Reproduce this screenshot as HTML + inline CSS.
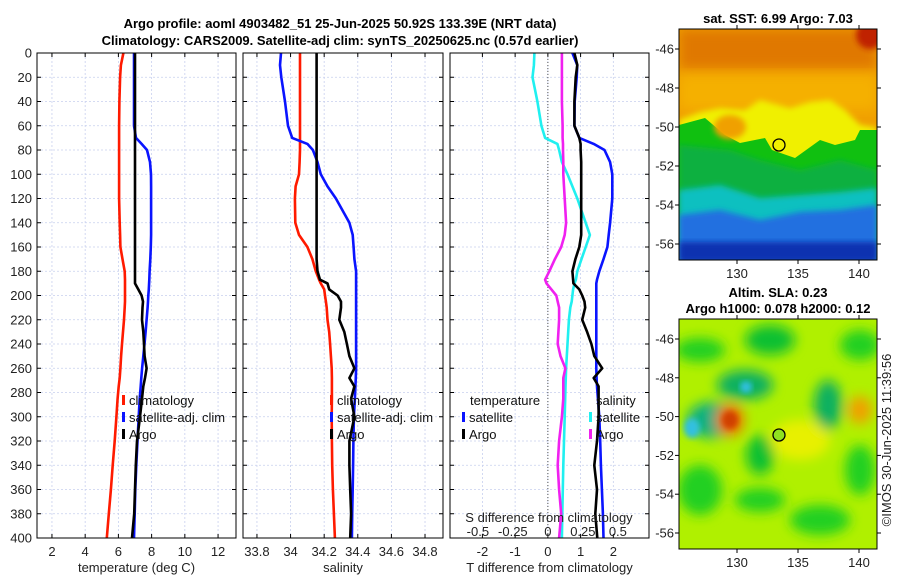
<!DOCTYPE html>
<html><head><meta charset="utf-8"><style>
body{margin:0;background:#fff;}
svg{display:block;font-family:"Liberation Sans","DejaVu Sans",sans-serif;}
</style></head><body>
<svg id="c" width="900" height="580" viewBox="0 0 900 580" xmlns="http://www.w3.org/2000/svg">
<defs>
<filter id="bl" x="-20%" y="-20%" width="140%" height="140%"><feGaussianBlur stdDeviation="6"/></filter>
<filter id="bl2" x="-20%" y="-20%" width="140%" height="140%"><feGaussianBlur stdDeviation="3"/></filter>
<clipPath id="cm1"><rect x="679" y="29" width="198" height="231"/></clipPath>
<clipPath id="cm2"><rect x="679" y="319" width="198" height="230"/></clipPath>
</defs>
<text x="340" y="28" font-size="13" font-weight="bold" text-anchor="middle">Argo profile: aoml 4903482_51 25-Jun-2025 50.92S 133.39E (NRT data)</text>
<text x="340" y="45" font-size="13" font-weight="bold" text-anchor="middle">Climatology: CARS2009. Satellite-adj clim: synTS_20250625.nc (0.57d earlier)</text>
<g id="panels"></g>
<g id="maps">
<text x="778" y="23" font-size="13" font-weight="bold" text-anchor="middle">sat. SST: 6.99 Argo: 7.03</text>
<g clip-path="url(#cm1)">
<rect x="679" y="29" width="198" height="231" fill="#f0a000"/>
<rect x="679" y="29" width="198" height="40" fill="#e07800" filter="url(#bl)"/>
<circle cx="870" cy="35" r="14" fill="#c02000" filter="url(#bl2)"/>
<rect x="679" y="75" width="198" height="35" fill="#f5b000" filter="url(#bl)"/>
<path d="M679 120 L700 112 L720 108 L745 110 L760 100 L790 108 L810 102 L830 100 L845 110 L860 125 L877 128 L877 262 L679 262 Z" fill="#f0f000" filter="url(#bl2)"/>
<path d="M679 125 L705 118 L725 135 L740 143 L765 138 L772 150 L795 158 L820 140 L835 145 L855 140 L860 130 L877 130 L877 262 L679 262 Z" fill="#10c010"/>
<ellipse cx="730" cy="127" rx="16" ry="12" fill="#f0a000" filter="url(#bl2)"/>
<path d="M679 145 L730 150 L760 160 L800 170 L840 160 L877 170 L877 262 L679 262 Z" fill="#10b040" filter="url(#bl2)"/>
<path d="M679 190 L720 185 L760 198 L800 195 L840 192 L877 188 L877 262 L679 262 Z" fill="#10c0c0" filter="url(#bl2)"/>
<path d="M679 215 L720 210 L760 220 L800 212 L840 210 L877 205 L877 262 L679 262 Z" fill="#2070e0" filter="url(#bl2)"/>
<rect x="679" y="242" width="198" height="20" fill="#1030b0" filter="url(#bl2)"/>
<circle cx="779" cy="145" r="6" fill="none" stroke="#000" stroke-width="1.3"/>
</g>
<rect x="679" y="29" width="198" height="231" fill="none" stroke="#000" stroke-width="1"/>
<text x="778" y="297" font-size="13" font-weight="bold" text-anchor="middle">Altim. SLA: 0.23</text>
<text x="778" y="313" font-size="13" font-weight="bold" text-anchor="middle">Argo h1000: 0.078 h2000: 0.12</text>
<g clip-path="url(#cm2)">
<rect x="679" y="319" width="198" height="230" fill="#b0f000"/>
<g filter="url(#bl)">
<ellipse cx="700" cy="350" rx="25" ry="12" fill="#20d020"/>
<ellipse cx="770" cy="340" rx="25" ry="15" fill="#10c030"/>
<ellipse cx="860" cy="345" rx="20" ry="15" fill="#20d020"/>
<ellipse cx="745" cy="385" rx="28" ry="15" fill="#10b060"/>
<ellipse cx="712" cy="420" rx="25" ry="18" fill="#10b080"/>
<ellipse cx="828" cy="405" rx="14" ry="25" fill="#10b060"/>
<ellipse cx="760" cy="455" rx="14" ry="20" fill="#10c030"/>
<ellipse cx="700" cy="490" rx="22" ry="25" fill="#20d020"/>
<ellipse cx="760" cy="500" rx="25" ry="12" fill="#20d020"/>
<ellipse cx="820" cy="520" rx="30" ry="15" fill="#20d020"/>
<ellipse cx="860" cy="470" rx="15" ry="25" fill="#20d020"/>
<ellipse cx="730" cy="420" rx="14" ry="16" fill="#f07000"/>
<ellipse cx="860" cy="410" rx="12" ry="14" fill="#f0a000"/>
<ellipse cx="800" cy="440" rx="30" ry="20" fill="#e8f000"/>
</g>
<ellipse cx="692" cy="428" rx="8" ry="10" fill="#30c0e0" filter="url(#bl2)"/>
<ellipse cx="746" cy="387" rx="6" ry="6" fill="#30c0e0" filter="url(#bl2)"/>
<ellipse cx="730" cy="420" rx="8" ry="9" fill="#d04000" filter="url(#bl2)"/>
<circle cx="779" cy="435" r="6" fill="#90e020" stroke="#000" stroke-width="1.3"/>
</g>
<rect x="679" y="319" width="198" height="230" fill="none" stroke="#000" stroke-width="1"/>
<text transform="translate(891,440) rotate(-90)" font-size="13" text-anchor="middle" fill="#222">©IMOS 30-Jun-2025 11:39:56</text>
</g>
</svg>
<script>
// ---- data ----
const depthGrid = [0,10,20,40,60,70,75,80,90,100,110,120,140,150,160,170,180,187,190,195,200,205,210,220,230,240,250,260,268,275,285,300,320,340,360,380,400];
const tempClim  = [6.3,6.15,6.1,6.06,6.04,6.04,6.04,6.04,6.04,6.04,6.04,6.04,6.08,6.1,6.12,6.25,6.38,6.4,6.4,6.4,6.4,6.4,6.38,6.34,6.28,6.22,6.16,6.12,6.08,6.02,5.95,5.88,5.78,5.66,5.55,5.42,5.3];
const tempSat   = [6.94,6.94,6.94,6.94,6.94,7.06,7.4,7.72,7.9,7.96,7.97,7.97,7.97,7.97,7.95,7.92,7.88,7.86,7.85,7.83,7.8,7.78,7.76,7.7,7.64,7.57,7.5,7.43,7.38,7.34,7.28,7.22,7.15,7.08,7.02,6.98,6.94];
const tempArgo  = [7.0,7.0,7.0,7.0,7.0,7.0,7.0,7.0,7.0,7.0,7.0,7.0,7.0,7.0,7.0,7.0,7.0,7.0,7.0,7.2,7.4,7.48,7.45,7.42,7.5,7.54,7.58,7.7,7.6,7.5,7.42,7.3,7.12,7.05,7.0,6.95,6.82];
const salClim   = [34.056,34.056,34.056,34.056,34.056,34.056,34.056,34.056,34.054,34.05,34.03,34.026,34.028,34.05,34.1,34.13,34.15,34.17,34.18,34.2,34.205,34.21,34.215,34.22,34.23,34.235,34.24,34.245,34.246,34.246,34.246,34.245,34.246,34.248,34.252,34.258,34.264];
const salSat    = [33.943,33.937,33.945,33.967,33.985,34.01,34.1,34.133,34.16,34.18,34.22,34.27,34.35,34.37,34.375,34.38,34.39,34.39,34.39,34.39,34.39,34.39,34.39,34.39,34.39,34.39,34.39,34.39,34.388,34.386,34.383,34.377,34.374,34.372,34.37,34.367,34.365];
const salArgo   = [34.155,34.155,34.155,34.155,34.155,34.155,34.155,34.155,34.155,34.155,34.155,34.155,34.155,34.155,34.155,34.155,34.16,34.175,34.22,34.23,34.28,34.3,34.3,34.29,34.32,34.335,34.35,34.38,34.35,34.38,34.36,34.38,34.35,34.35,34.355,34.36,34.355];
const tDiffSat  = [0.75,0.9,0.88,0.82,0.81,0.96,1.4,1.73,1.9,1.97,1.97,1.97,1.9,1.86,1.82,1.7,1.57,1.5,1.48,1.48,1.48,1.48,1.48,1.48,1.48,1.48,1.48,1.48,1.49,1.5,1.53,1.57,1.6,1.62,1.65,1.68,1.7];
const tDiffArgo = [0.81,0.9,0.85,0.81,0.81,0.96,1.0,1.0,1.02,1.02,1.02,1.02,1.02,1.02,0.96,0.84,0.75,0.77,0.78,0.96,1.05,1.12,1.14,1.05,1.2,1.33,1.42,1.66,1.4,1.55,1.55,1.55,1.5,1.42,1.5,1.45,1.51];
const sDiffSat  = [-0.096,-0.1,-0.11,-0.075,-0.046,-0.02,0.068,0.08,0.1,0.14,0.175,0.21,0.27,0.3,0.27,0.24,0.21,0.2,0.19,0.18,0.175,0.17,0.16,0.15,0.145,0.14,0.135,0.13,0.128,0.126,0.124,0.12,0.115,0.11,0.107,0.103,0.1];
const sDiffArgo = [0.1,0.1,0.1,0.1,0.105,0.105,0.108,0.108,0.11,0.11,0.115,0.12,0.13,0.12,0.095,0.05,0.01,-0.02,-0.01,0.025,0.06,0.07,0.08,0.08,0.075,0.07,0.09,0.125,0.11,0.11,0.11,0.1,0.08,0.07,0.08,0.095,0.08];
const depthTicks = [0,20,40,60,80,100,120,140,160,180,200,220,240,260,280,300,320,340,360,380,400];
const tempTicks = [2,4,6,8,10,12];
const salTicks = [33.8,34,34.2,34.4,34.6,34.8];
const tDiffTicks = [-2,-1,0,1,2];
const sDiffTickVals = [-0.5,-0.25,0,0.25,0.5];
const sstLatTicks = [-46,-48,-50,-52,-54,-56];
const lonTicks = [130,135,140];
// ---- drawing ----
const NS='http://www.w3.org/2000/svg';
const g=document.getElementById('panels');
function mk(tag,attrs,parent){const e=document.createElementNS(NS,tag);for(const k in attrs)e.setAttribute(k,attrs[k]);(parent||g).appendChild(e);return e;}
const yTop=53,yBot=538;
const yS=d=>yTop+(d/400)*(yBot-yTop);
const panels=[
 {x0:37,x1:236,d0:1.1,d1:13.08,ticks:tempTicks,label:'temperature (deg C)',name:'temperature'},
 {x0:243,x1:443,d0:33.717,d1:34.907,ticks:salTicks,label:'salinity',name:'salinity'},
 {x0:450,x1:649,d0:-2.99,d1:3.09,ticks:tDiffTicks,label:'T difference from climatology',name:'difference'}
];
panels.forEach(p=>{p.x=v=>p.x0+(v-p.d0)/(p.d1-p.d0)*(p.x1-p.x0);});
panels.forEach((p,i)=>{
 const pg=mk('g',{});
 
 
 depthTicks.forEach(d=>{
  mk('line',{x1:p.x0,x2:p.x1,y1:yS(d),y2:yS(d),stroke:'#c8d0ee','stroke-width':0.8,'stroke-dasharray':'2,2'},pg);
  mk('line',{x1:p.x0,x2:p.x0+4,y1:yS(d),y2:yS(d),stroke:'#000'},pg);
  mk('line',{x1:p.x1-4,x2:p.x1,y1:yS(d),y2:yS(d),stroke:'#000'},pg);
  if(i===0){const t=mk('text',{x:p.x0-5,y:yS(d)+4.5,'font-size':13,'text-anchor':'end',fill:'#222'},pg);t.textContent=d;
   
   }
 });
 p.ticks.forEach(v=>{
  const x=p.x(v);
  mk('line',{x1:x,x2:x,y1:yTop,y2:yBot,stroke:'#c8d0ee','stroke-width':0.8,'stroke-dasharray':'2,2'},pg);
  mk('line',{x1:x,x2:x,y1:yBot,y2:yBot-4,stroke:'#000'},pg);
  mk('line',{x1:x,x2:x,y1:yTop,y2:yTop+4,stroke:'#000'},pg);
  const t=mk('text',{x:x,y:556,'font-size':13,'text-anchor':'middle',fill:'#222'},pg);t.textContent=v;
  
  
 });
 const xl=mk('text',{x:(p.x0+p.x1)/2,y:572,'font-size':13,'text-anchor':'middle',fill:'#222'},pg);xl.textContent=p.label;
 
 
 p.g=pg;
});
function line(p,vals,color,name,scale){
 const pts=vals.map((v,k)=>(scale?scale(v):p.x(v)).toFixed(1)+','+yS(depthGrid[k]).toFixed(1)).join(' ');
 const e=mk('polyline',{points:pts,fill:'none',stroke:color,'stroke-width':2.6,'stroke-linejoin':'round'},p.g);
 
 
}
const P=panels;
line(P[0],tempClim,'#ff1a00','temp-climatology-line');
line(P[0],tempSat,'#0a14ff','temp-satellite-line');
line(P[0],tempArgo,'#000','temp-argo-line');
line(P[1],salClim,'#ff1a00','sal-climatology-line');
line(P[1],salSat,'#0a14ff','sal-satellite-line');
line(P[1],salArgo,'#000','sal-argo-line');
const zx=P[2].x(0);
mk('line',{x1:zx,x2:zx,y1:yTop,y2:yBot,stroke:'#555','stroke-dasharray':'1,2'},P[2].g);
const sS=v=>zx+v*140;
line(P[2],sDiffSat,'#20f0f0','sdiff-satellite-line',sS);
line(P[2],sDiffArgo,'#f020f0','sdiff-argo-line',sS);
line(P[2],tDiffSat,'#0a14ff','tdiff-satellite-line');
line(P[2],tDiffArgo,'#000','tdiff-argo-line');
const st=mk('text',{x:549,y:522,'font-size':13,'text-anchor':'middle',fill:'#222'},P[2].g);st.textContent='S difference from climatology';


sDiffTickVals.forEach(v=>{const t=mk('text',{x:sS(v),y:536,'font-size':13,'text-anchor':'middle',fill:'#222'},P[2].g);t.textContent=String(v);
 
 });
panels.forEach(p=>mk('rect',{x:p.x0,y:yTop,width:p.x1-p.x0,height:yBot-yTop,fill:'none',stroke:'#000','stroke-width':1},p.g));
function leg(pg,x,y,color,label){
 mk('rect',{x:x,y:y-10,width:3,height:10,fill:color},pg);
 const t=mk('text',{x:x+7,y:y,'font-size':13,fill:'#111'},pg);t.textContent=label;
 
 
}
leg(P[0].g,122,405,'#ff1a00','climatology');leg(P[0].g,122,422,'#0a14ff','satellite-adj. clim');leg(P[0].g,122,439,'#000','Argo');
leg(P[1].g,330,405,'#ff1a00','climatology');leg(P[1].g,330,422,'#0a14ff','satellite-adj. clim');leg(P[1].g,330,439,'#000','Argo');
const th=mk('text',{x:470,y:405,'font-size':13,fill:'#111'},P[2].g);th.textContent='temperature';


const sh=mk('text',{x:596,y:405,'font-size':13,fill:'#111'},P[2].g);sh.textContent='salinity';


leg(P[2].g,462,422,'#0a14ff','satellite');leg(P[2].g,462,439,'#000','Argo');
leg(P[2].g,589,422,'#20f0f0','satellite');leg(P[2].g,589,439,'#f020f0','Argo');
const mg=document.getElementById('maps');
function mapAxes(y0,y1,latA,latB){
 const ly=v=>latA.y+(v-latA.v)/(latB.v-latA.v)*(latB.y-latA.y);
 sstLatTicks.forEach(v=>{const y=ly(v);
  mk('line',{x1:679,x2:675,y1:y,y2:y,stroke:'#000'},mg);mk('line',{x1:877,x2:881,y1:y,y2:y,stroke:'#000'},mg);
  const t=mk('text',{x:674,y:y+4.5,'font-size':13,'text-anchor':'end',fill:'#222'},mg);t.textContent=v;
  
  });
 const lx=v=>737+(v-130)*12.2;
 lonTicks.forEach(v=>{const x=lx(v);
  mk('line',{x1:x,x2:x,y1:y1,y2:y1+4,stroke:'#000'},mg);mk('line',{x1:x,x2:x,y1:y0,y2:y0-4,stroke:'#000'},mg);
  const t=mk('text',{x:x,y:y1+18,'font-size':13,'text-anchor':'middle',fill:'#222'},mg);t.textContent=v;
  
  });
}
mapAxes(29,260,{v:-46,y:49},{v:-56,y:244});
mapAxes(319,549,{v:-46,y:339},{v:-56,y:533});
</script>
</body></html>
